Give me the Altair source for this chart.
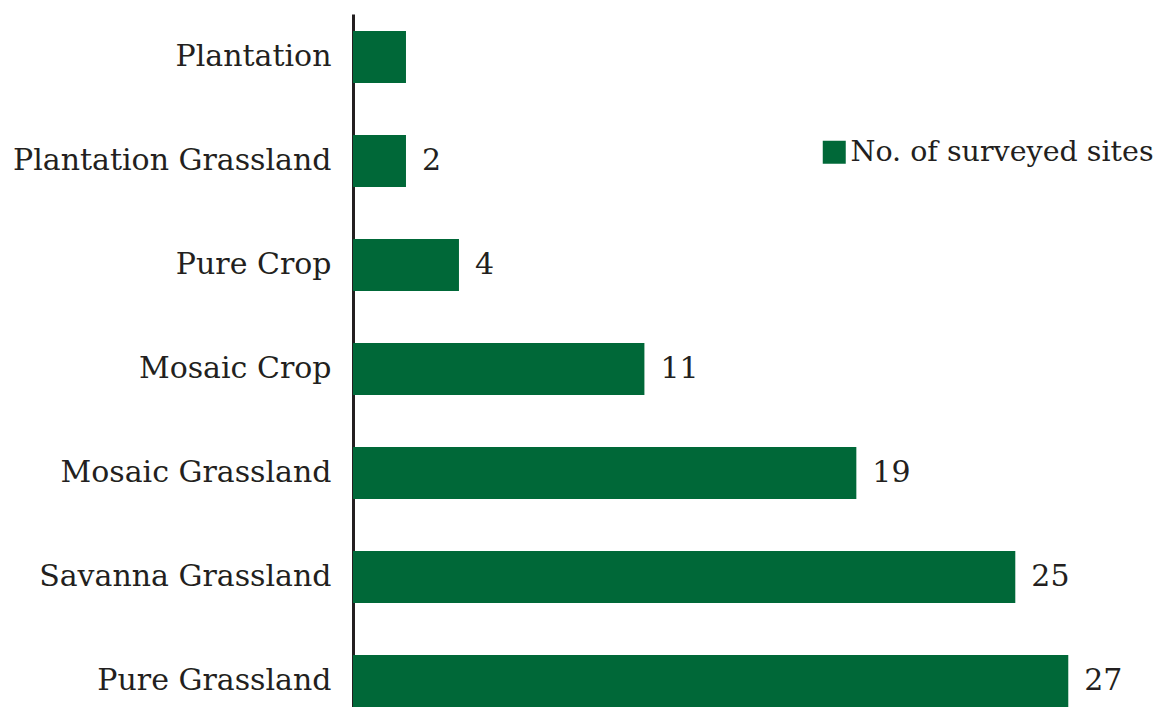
import altair as alt
import pandas as pd

categories = ["Plantation", "Plantation Grassland", "Pure Crop", "Mosaic Crop",
              "Mosaic Grassland", "Savanna Grassland", "Pure Grassland"]
values = [2, 2, 4, 11, 19, 25, 27]
labels = ["", "2", "4", "11", "19", "25", "27"]
series = "No. of surveyed sites"

df = pd.DataFrame({"category": categories, "value": values, "label": labels, "series": series})

FONT = "DejaVu Serif"
GREEN = "#006838"
INK = "#231f20"

y = alt.Y("category:N", sort=categories, title=None,
          scale=alt.Scale(paddingInner=0.5, paddingOuter=0.082, align=1),
          axis=alt.Axis(domain=True, domainColor=INK, domainWidth=3, ticks=False,
                        labelFont=FONT, labelFontSize=30, labelColor=INK, labelPadding=22,
                        labelLimit=400))
x = alt.X("value:Q", title=None, scale=alt.Scale(domain=[0, 30.5], nice=False), axis=None)

bars = alt.Chart(df).mark_bar(size=52).encode(
    y=y, x=x,
    color=alt.Color("series:N", title=None,
                    scale=alt.Scale(range=[GREEN]),
                    legend=alt.Legend(orient="none", legendX=467, legendY=124,
                                      symbolType="square", symbolSize=529,
                                      symbolStrokeWidth=0, symbolOpacity=1,
                                      labelFont=FONT, labelFontSize=28.5, labelColor=INK,
                                      labelOffset=2, labelLimit=400))
)

text = alt.Chart(df).mark_text(align="left", baseline="middle", dx=16,
                               font=FONT, fontSize=30, color=INK).encode(
    y=alt.Y("category:N", sort=categories), x=x, text="label:N"
)

chart = alt.layer(bars, text).properties(
    width=808, height=693,
    autosize=alt.AutoSizeParams(type="none"),
    padding={"left": 353, "top": 14, "right": 0, "bottom": 0},
    background="white",
).configure_view(stroke=None)

chart.save("out.html", embed_options={"renderer": "svg", "actions": False})
